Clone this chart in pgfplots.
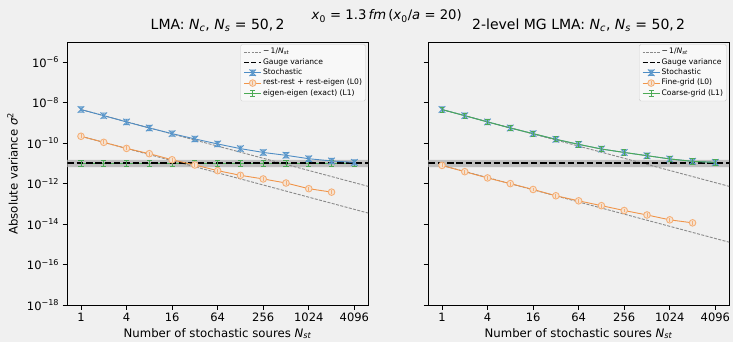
\documentclass[border=0pt]{standalone}
\usepackage{fontspec}
\setmainfont{DejaVu Sans}
\usepackage{pgfplots}
\pgfplotsset{compat=1.18}
\definecolor{bg}{HTML}{F0F0F0}
\definecolor{blueL}{HTML}{4F8DC4}
\definecolor{blueM}{HTML}{5A97CB}
\definecolor{orangeL}{HTML}{F0954A}
\definecolor{orangeM}{HTML}{F5B078}
\definecolor{orangeF}{HTML}{F5E3D3}
\definecolor{greenL}{HTML}{4CAA55}
\definecolor{refgray}{HTML}{8A8A8A}
\definecolor{bandc}{HTML}{BFBFBF}
\definecolor{legedge}{HTML}{CCCCCC}
\definecolor{legfill}{HTML}{F8F8F8}

\newcommand\tickfont{\fontsize{11.5}{13}\selectfont}
\newcommand\labfont{\fontsize{11.7}{13}\selectfont}
\newcommand\titlefont{\fontsize{14}{16}\selectfont}
\newcommand\legfont{\fontsize{7.6}{9}\selectfont}

% error-bar style marks (vertical bar with caps), x + bar, circle + bar
\pgfdeclareplotmark{ebar}{%
  \pgfpathmoveto{\pgfpoint{0pt}{-\pgfplotmarksize}}%
  \pgfpathlineto{\pgfpoint{0pt}{\pgfplotmarksize}}%
  \pgfpathmoveto{\pgfpoint{-0.85\pgfplotmarksize}{\pgfplotmarksize}}%
  \pgfpathlineto{\pgfpoint{0.85\pgfplotmarksize}{\pgfplotmarksize}}%
  \pgfpathmoveto{\pgfpoint{-0.85\pgfplotmarksize}{-\pgfplotmarksize}}%
  \pgfpathlineto{\pgfpoint{0.85\pgfplotmarksize}{-\pgfplotmarksize}}%
  \pgfusepathqstroke}
\pgfdeclareplotmark{xebar}{%
  \pgfpathmoveto{\pgfpoint{-\pgfplotmarksize}{-\pgfplotmarksize}}%
  \pgfpathlineto{\pgfpoint{\pgfplotmarksize}{\pgfplotmarksize}}%
  \pgfpathmoveto{\pgfpoint{-\pgfplotmarksize}{\pgfplotmarksize}}%
  \pgfpathlineto{\pgfpoint{\pgfplotmarksize}{-\pgfplotmarksize}}%
  \pgfpathmoveto{\pgfpoint{0pt}{-0.8\pgfplotmarksize}}%
  \pgfpathlineto{\pgfpoint{0pt}{0.8\pgfplotmarksize}}%
  \pgfpathmoveto{\pgfpoint{-0.75\pgfplotmarksize}{0.8\pgfplotmarksize}}%
  \pgfpathlineto{\pgfpoint{0.75\pgfplotmarksize}{0.8\pgfplotmarksize}}%
  \pgfpathmoveto{\pgfpoint{-0.75\pgfplotmarksize}{-0.8\pgfplotmarksize}}%
  \pgfpathlineto{\pgfpoint{0.75\pgfplotmarksize}{-0.8\pgfplotmarksize}}%
  \pgfusepathqstroke}
\pgfdeclareplotmark{oebar}{%
  \pgfpathcircle{\pgfpointorigin}{\pgfplotmarksize}%
  \pgfusepathqfillstroke
  \pgfpathmoveto{\pgfpoint{0pt}{-0.6\pgfplotmarksize}}%
  \pgfpathlineto{\pgfpoint{0pt}{0.6\pgfplotmarksize}}%
  \pgfusepathqstroke}

\pgfplotsset{
  every axis/.append style={
    scale only axis, width=300.7pt, height=263pt,
    xmin=0.6598, xmax=6208, ymin=1e-18, ymax=1e-5,
    xtick={1,4,16,64,256,1024,4096},
    xticklabels={1,4,16,64,256,1024,4096},
    ytick={1e-18,1e-16,1e-14,1e-12,1e-10,1e-8,1e-6},
    xminorticks=false, yminorticks=false,
    tick pos=left,
    tick align=outside, major tick length=4.7pt,
    tick style={black, line width=0.8pt},
    axis line style={black, line width=0.8pt},
    ticklabel style={font=\tickfont},
    label style={font=\labfont},
    title style={font=\titlefont, at={(0.5,1)}, anchor=base, yshift=6.5pt},
    xlabel style={at={(axis description cs:0.5,0)}, anchor=base, yshift=-32pt},
    legend style={at={(1,1)}, anchor=north east, xshift=-2.3pt, yshift=-2.3pt,
      draw=legedge, fill=legfill, rounded corners=1.5pt, font=\legfont,
      inner sep=2.5pt, row sep=0pt,
      nodes={inner sep=1pt, text height=6pt, text depth=2.3pt}},
    legend cell align=left,
  },
}

\begin{document}
\begin{tikzpicture}
\fill[bg] (0,0) rectangle (733pt,342pt);
\useasboundingbox (0,0) rectangle (733pt,342pt);

% ---------------- left panel ----------------
\begin{loglogaxis}[at={(67.3pt,37pt)}, anchor=south west, log basis x=2,
  yticklabels={10\textsuperscript{−18},10\textsuperscript{−16},10\textsuperscript{−14},10\textsuperscript{−12},10\textsuperscript{−10},10\textsuperscript{−8},10\textsuperscript{−6}},
  title={LMA: \textit{N}\textsubscript{\textit{c}}, \textit{N}\textsubscript{\textit{s}} = 50,\,2},
  xlabel={Number of stochastic soures \textit{N}\textsubscript{\textit{st}}},
  ylabel={Absolute variance \textit{σ}\textsuperscript{2}},
  ylabel style={at={(axis description cs:-0.1822,0.5)}, anchor=center},
]
\addlegendimage{refgray, line width=0.9pt, dash pattern=on 2.5pt off 1.2pt}
\addlegendentry{−\,1/\textit{N}\textsubscript{\textit{st}}}
\addlegendimage{black, line width=1.8pt, dash pattern=on 5pt off 2.2pt}
\addlegendentry{Gauge variance}
\addlegendimage{blueL, line width=0.9pt, mark=xebar, mark size=3.3pt, mark options={draw=blueM, line width=0.9pt}}
\addlegendentry{Stochastic}
\addlegendimage{orangeL, line width=0.9pt, mark=oebar, mark size=3.3pt, mark options={draw=orangeM, fill=orangeF, line width=0.9pt}}
\addlegendentry{rest-rest + rest-eigen (L0)}
\addlegendimage{greenL, line width=0.9pt, mark=ebar, mark size=3pt, mark options={line width=0.9pt}}
\addlegendentry{eigen-eigen (exact) (L1)}
\addplot[fill=bandc, draw=none, forget plot] coordinates {(0.5,6.6e-12) (8192,6.6e-12) (8192,1.48e-11) (0.5,1.48e-11) (0.5,6.6e-12)};
\addplot[refgray, line width=0.9pt, dash pattern=on 3pt off 1.4pt, forget plot] coordinates {(1,4.57e-9) (8192,5.58e-13)};
\addplot[refgray, line width=0.9pt, dash pattern=on 3pt off 1.4pt, forget plot] coordinates {(1,2.19e-10) (8192,2.67e-14)};
\addplot[greenL, line width=0.9pt, mark=ebar, mark size=3pt, mark options={line width=0.9pt}, forget plot] coordinates {
 (1,1.05e-11) (2,1.05e-11) (4,1.05e-11) (8,1.05e-11) (16,1.05e-11) (32,1.05e-11)
 (64,1.05e-11) (128,1.05e-11) (256,1.05e-11) (512,1.05e-11) (1024,1.05e-11) (2048,1.05e-11) (4096,1.05e-11)};
\addplot[black, line width=1.8pt, dash pattern=on 6.5pt off 2.8pt, forget plot] coordinates {(0.5,1.05e-11) (8192,1.05e-11)};
\addplot[blueL, line width=0.9pt, mark=xebar, mark size=3.3pt, mark options={draw=blueM, line width=0.9pt}, forget plot] coordinates {
 (1,4.57e-9) (2,2.29e-9) (4,1.12e-9) (8,5.62e-10) (16,2.95e-10) (32,1.62e-10)
 (64,9.12e-11) (128,5.37e-11) (256,3.47e-11) (512,2.51e-11) (1024,1.70e-11) (2048,1.32e-11) (4096,1.12e-11)};
\addplot[orangeL, line width=0.9pt, mark=oebar, mark size=3.3pt, mark options={draw=orangeM, fill=orangeF, line width=0.9pt}, forget plot] coordinates {
 (1,2.19e-10) (2,1.10e-10) (4,5.50e-11) (8,3.02e-11) (16,1.51e-11) (32,8.32e-12)
 (64,4.37e-12) (128,2.57e-12) (256,1.70e-12) (512,1.07e-12) (1024,5.62e-13) (2048,3.80e-13)};
\end{loglogaxis}

% ---------------- right panel ----------------
\begin{loglogaxis}[at={(428.3pt,37pt)}, anchor=south west, log basis x=2,
  yticklabels={},
  title={2-level MG LMA: \textit{N}\textsubscript{\textit{c}}, \textit{N}\textsubscript{\textit{s}} = 50,\,2},
  xlabel={Number of stochastic soures \textit{N}\textsubscript{\textit{st}}},
]
\addlegendimage{refgray, line width=0.9pt, dash pattern=on 2.5pt off 1.2pt}
\addlegendentry{−\,1/\textit{N}\textsubscript{\textit{st}}}
\addlegendimage{black, line width=1.8pt, dash pattern=on 5pt off 2.2pt}
\addlegendentry{Gauge variance}
\addlegendimage{blueL, line width=0.9pt, mark=xebar, mark size=3.3pt, mark options={draw=blueM, line width=0.9pt}}
\addlegendentry{Stochastic}
\addlegendimage{orangeL, line width=0.9pt, mark=oebar, mark size=3.3pt, mark options={draw=orangeM, fill=orangeF, line width=0.9pt}}
\addlegendentry{Fine-grid (L0)}
\addlegendimage{greenL, line width=0.9pt, mark=ebar, mark size=3pt, mark options={line width=0.9pt}}
\addlegendentry{Coarse-grid (L1)}
\addplot[fill=bandc, draw=none, forget plot] coordinates {(0.5,6.6e-12) (8192,6.6e-12) (8192,1.48e-11) (0.5,1.48e-11) (0.5,6.6e-12)};
\addplot[refgray, line width=0.9pt, dash pattern=on 3pt off 1.4pt, forget plot] coordinates {(1,4.57e-9) (8192,5.58e-13)};
\addplot[refgray, line width=0.9pt, dash pattern=on 3pt off 1.4pt, forget plot] coordinates {(1,7.94e-12) (8192,9.69e-16)};
\addplot[black, line width=1.8pt, dash pattern=on 6.5pt off 2.8pt, forget plot] coordinates {(0.5,1.05e-11) (8192,1.05e-11)};
\addplot[blueL, line width=0.9pt, mark=xebar, mark size=3.3pt, mark options={draw=blueM, line width=0.9pt}, forget plot] coordinates {
 (1,4.57e-9) (2,2.29e-9) (4,1.12e-9) (8,5.62e-10) (16,2.95e-10) (32,1.55e-10)
 (64,8.71e-11) (128,5.13e-11) (256,3.47e-11) (512,2.40e-11) (1024,1.66e-11) (2048,1.26e-11) (4096,1.12e-11)};
\addplot[orangeL, line width=0.9pt, mark=oebar, mark size=3.3pt, mark options={draw=orangeM, fill=orangeF, line width=0.9pt}, forget plot] coordinates {
 (1,7.94e-12) (2,3.89e-12) (4,1.91e-12) (8,1.00e-12) (16,5.13e-13) (32,2.51e-13)
 (64,1.41e-13) (128,8.13e-14) (256,4.68e-14) (512,2.82e-14) (1024,1.62e-14) (2048,1.15e-14)};
\addplot[greenL, line width=0.9pt, mark=ebar, mark size=2.6pt, mark options={line width=0.9pt}, forget plot] coordinates {
 (1,4.57e-9) (2,2.29e-9) (4,1.12e-9) (8,5.62e-10) (16,2.95e-10) (32,1.55e-10)
 (64,8.71e-11) (128,5.13e-11) (256,3.47e-11) (512,2.40e-11) (1024,1.66e-11) (2048,1.26e-11) (4096,1.12e-11)};
\end{loglogaxis}

\node[anchor=base, font=\fontsize{13.2}{15}\selectfont] at (386.7pt,322pt)
  {\textit{x}\textsubscript{0} = 1.3\,\textit{fm}\,(\textit{x}\textsubscript{0}/\textit{a} = 20)};
\end{tikzpicture}
\end{document}
